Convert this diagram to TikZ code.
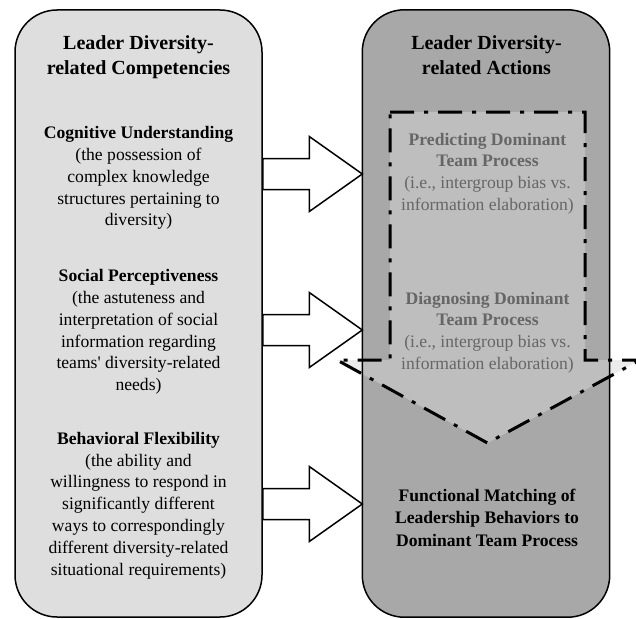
\documentclass[tikz,border=0pt]{standalone}
\usepackage{fontspec}
\setmainfont{Liberation Serif}
\usetikzlibrary{calc}
\definecolor{leftgray}{HTML}{DEDEDE}
\definecolor{rightgray}{HTML}{A8A8A8}
\definecolor{ghosttext}{HTML}{666666}
\definecolor{arrowgray}{HTML}{D7D7D7}
\begin{document}
\begin{tikzpicture}[x=1pt,y=-1pt,
  boxfill/.style={rounded corners=42pt,minimum width=247pt,minimum height=607pt,inner sep=0pt},
  boxline/.style={draw=black,line width=1.5pt,rounded corners=42pt},
  titletext/.style={font=\fontsize{20}{25}\selectfont\bfseries,align=center},
  bodytext/.style={font=\fontsize{17.6}{21.8}\selectfont,align=center},
  blockarrow/.style={draw=black,line width=1.5pt,fill=white,line join=miter},
  dashdot/.style={draw=black,line width=3pt,dash pattern=on 24pt off 10pt on 4pt off 10pt},
  ghost/.style={text=ghosttext}]
\useasboundingbox (0,0) rectangle (636,618);
% left box
\node[boxfill,fill=leftgray,draw=black,line width=1.5pt] (L) at (138.5,313.5) {};
% right box fill
\node[boxfill,fill=rightgray] (R) at (486,313.5) {};
% big translucent down arrow
\coordinate (tip) at (487.5,443);
\fill[arrowgray,fill opacity=0.47] (390,112) -- (585,112) -- (585,360) -- (640,360) -- (tip) -- (337,360) -- (390,360) -- cycle;
\draw[dashdot] (390,112) -- (585,112) -- (585,360) -- (640,360) -- (tip) -- (337,360) -- (390,360) -- cycle;
% right box border on top
\draw[boxline] (R.south west) rectangle (R.north east);
% block arrows
\foreach \yc/\n in {174/1,330/2,504/3}{
  \coordinate (s\n) at (L.east |- 0,\yc);
  \coordinate (t\n) at (R.west |- 0,\yc);
  \draw[blockarrow] ($(s\n)+(0,-15.5)$) -- ($(t\n)+(-53,-15.5)$) -- ($(t\n)+(-53,-37.5)$) -- (t\n)
    -- ($(t\n)+(-53,37.5)$) -- ($(t\n)+(-53,15.5)$) -- ($(s\n)+(0,15.5)$) -- cycle;
}
% left texts
\node[titletext] (ltitle) at (138.5,57.5) {Leader Diversity-\\related Competencies};
\node[bodytext] (cog) at (138.5,178) {{\bfseries Cognitive Understanding}\\(the possession of\\complex knowledge\\structures pertaining to\\diversity)};
\node[bodytext] (soc) at (138.5,332) {{\bfseries Social Perceptiveness}\\(the astuteness and\\interpretation of social\\information regarding\\teams\textquotesingle{} diversity-related\\needs)};
\node[bodytext] (beh) at (138.5,505.5) {{\bfseries Behavioral Flexibility}\\(the ability and\\willingness to respond in\\significantly different\\ways to correspondingly\\different diversity-related\\situational requirements)};
% right texts
\node[titletext] (rtitle) at (486.5,55) {Leader Diversity-\\related Actions};
\node[bodytext,ghost] (pred) at (487.5,173.5) {{\bfseries Predicting Dominant}\\{\bfseries Team Process}\\(i.e., intergroup bias vs.\\information elaboration)};
\node[bodytext,ghost] (diag) at (487.5,332.5) {{\bfseries Diagnosing Dominant}\\{\bfseries Team Process}\\(i.e., intergroup bias vs.\\information elaboration)};
\node[bodytext,font=\fontsize{17.6}{22.5}\selectfont\bfseries] (func) at (487,517.7) {Functional Matching of\\Leadership Behaviors to\\Dominant Team Process};
\end{tikzpicture}
\end{document}
